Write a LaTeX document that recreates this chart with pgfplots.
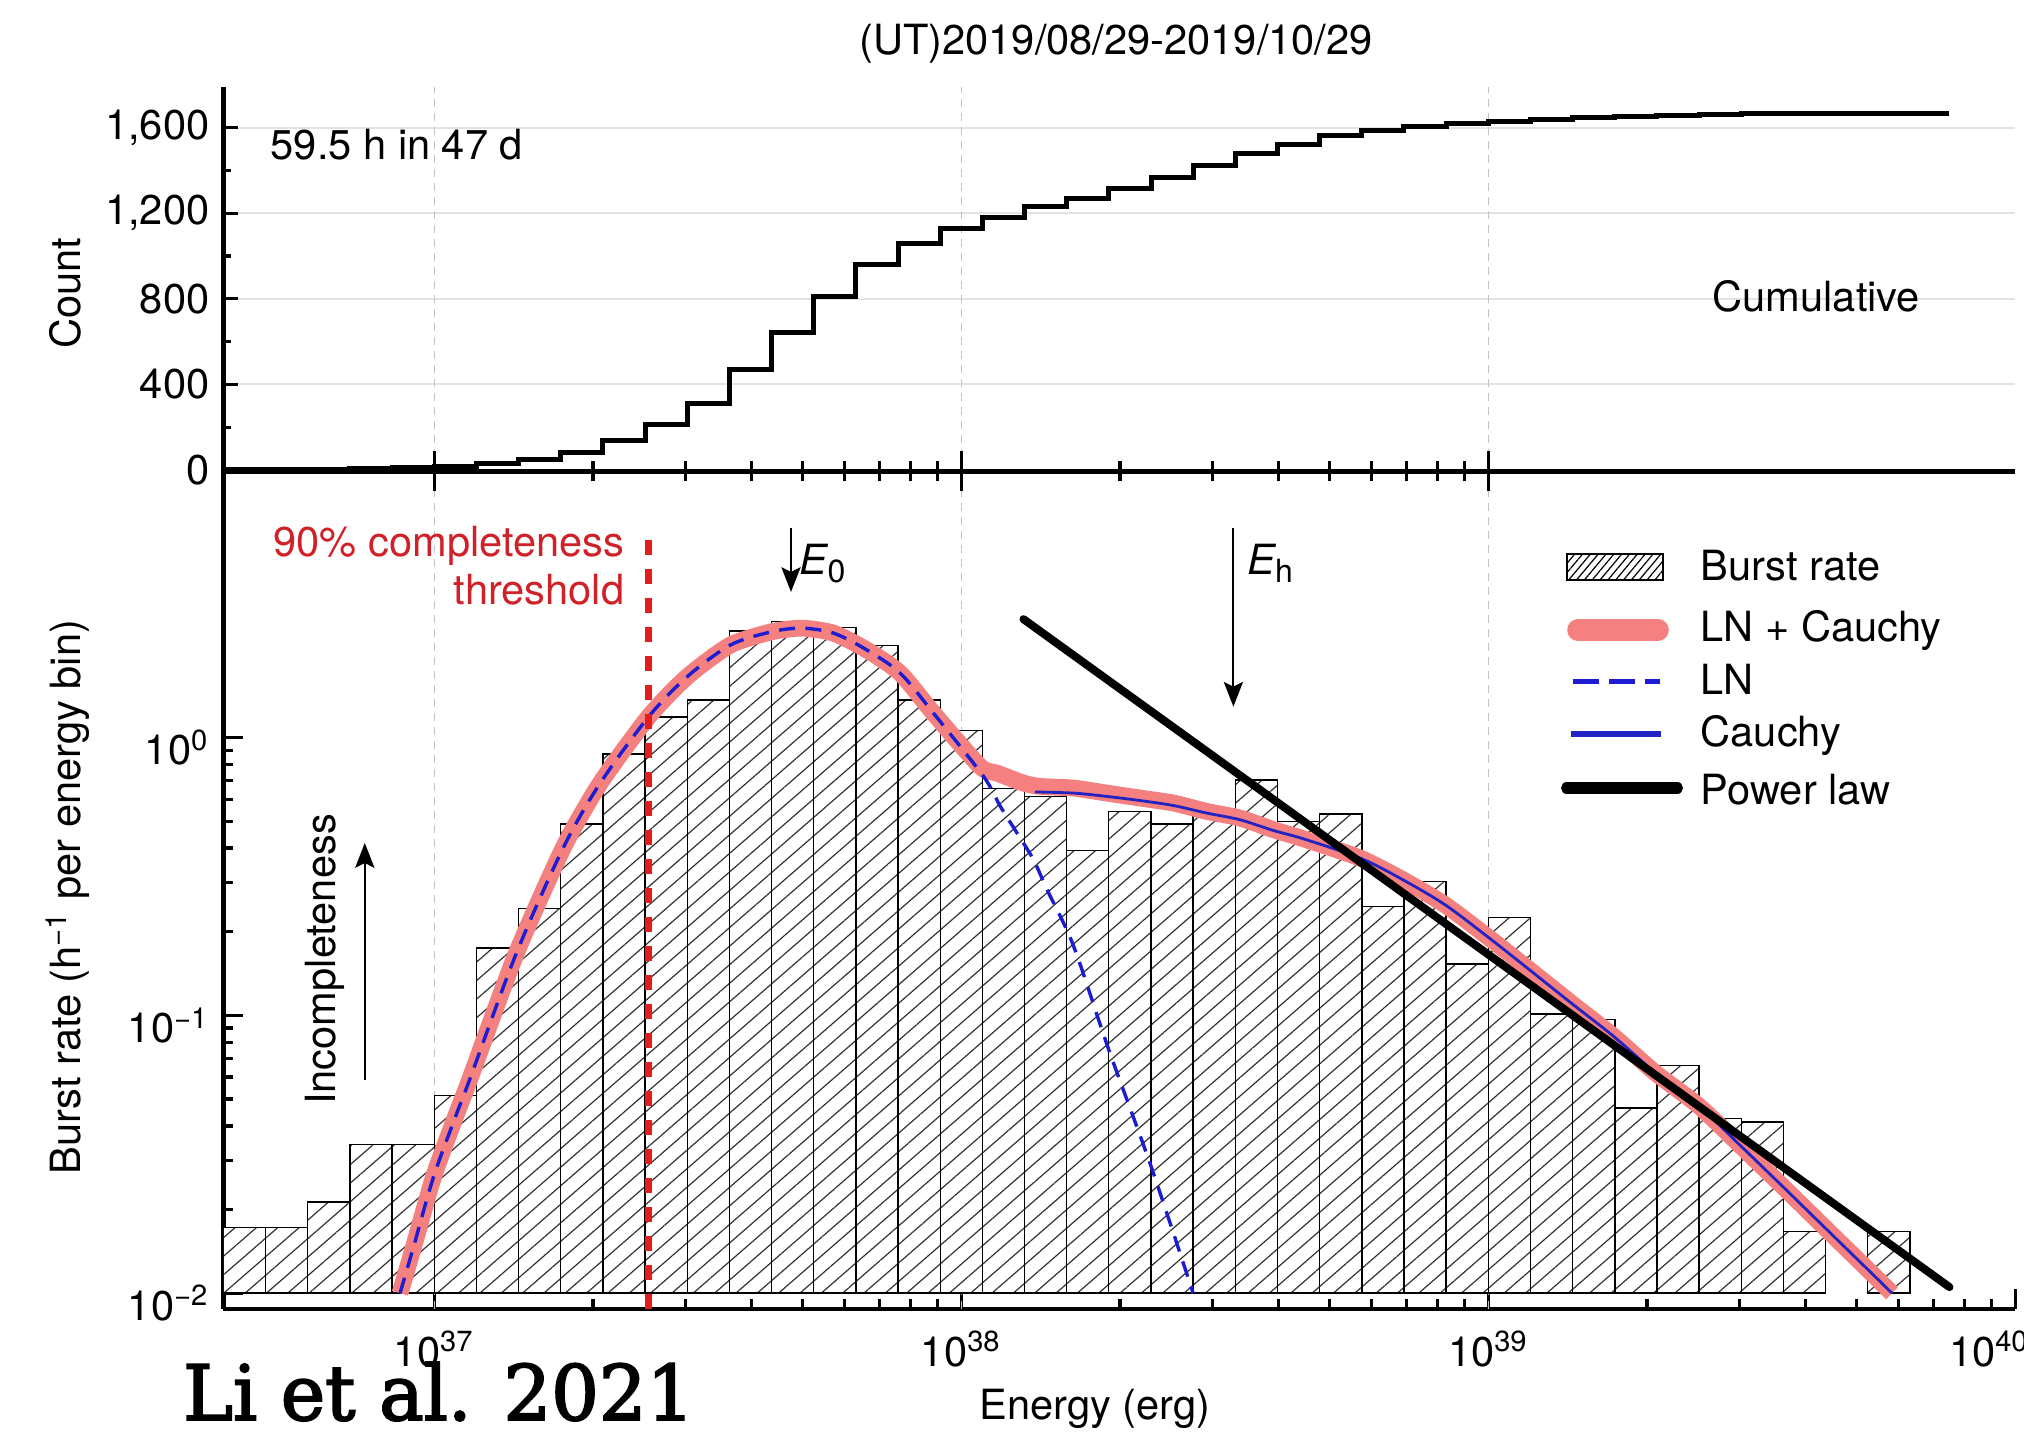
\documentclass[border=0pt]{standalone}
\usepackage{fontspec}
\setmainfont{TeX Gyre Heros}
\newfontfamily\stampfont{DejaVu Serif}[FakeBold=2.5]
\usepackage{graphicx}
\usepackage{pgfplots}
\pgfplotsset{compat=1.18}
\usepackage{pgfplotstable}
\usetikzlibrary{patterns.meta,arrows.meta}

\definecolor{lncauchy}{RGB}{244,128,128}
\definecolor{fitblue}{RGB}{28,28,210}
\definecolor{cauchyblue}{RGB}{35,35,195}
\definecolor{threshred}{RGB}{228,28,28}
\definecolor{threshtext}{RGB}{208,32,40}
\definecolor{hgrid}{RGB}{226,226,226}
\definecolor{vgrid}{RGB}{195,195,195}

\newcommand\txt{\fontsize{10.4bp}{12.5bp}\selectfont}
\newcommand\lowsub[1]{\raisebox{-1.9bp}{\fontsize{8bp}{9bp}\selectfont #1}}

% energy bins (erg) and burst rate (h^-1 per energy bin); the bin
% 4.365e39--5.248e39 holds no burst and is left out
\pgfplotstableread{
lo        hi        rate
3.981e36  4.786e36  0.0172
4.786e36  5.754e36  0.0172
5.754e36  6.918e36  0.0213
6.918e36  8.318e36  0.0343
8.318e36  1.000e37  0.0343
1.000e37  1.202e37  0.0514
1.202e37  1.445e37  0.175
1.445e37  1.738e37  0.242
1.738e37  2.089e37  0.488
2.089e37  2.512e37  0.871
2.512e37  3.020e37  1.184
3.020e37  3.631e37  1.366
3.631e37  4.365e37  2.42
4.365e37  5.248e37  2.61
5.248e37  6.310e37  2.49
6.310e37  7.586e37  2.14
7.586e37  9.120e37  1.366
9.120e37  1.096e38  1.06
1.096e38  1.318e38  0.655
1.318e38  1.585e38  0.613
1.585e38  1.905e38  0.392
1.905e38  2.291e38  0.542
2.291e38  2.754e38  0.488
2.754e38  3.311e38  0.527
3.311e38  3.981e38  0.704
3.981e38  4.786e38  0.499
4.786e38  5.754e38  0.530
5.754e38  6.918e38  0.247
6.918e38  8.318e38  0.303
8.318e38  1.000e39  0.153
1.000e39  1.202e39  0.225
1.202e39  1.445e39  0.101
1.445e39  1.738e39  0.0965
1.738e39  2.089e39  0.0464
2.089e39  2.512e39  0.0659
2.512e39  3.020e39  0.0425
3.020e39  3.631e39  0.0413
3.631e39  4.365e39  0.0167
5.248e39  6.310e39  0.0167
}\burstbins

% cumulative number of bursts, stepping at each bin edge
\pgfplotstableread{
E         N
3.981e36  1
4.786e36  2
5.754e36  4
6.918e36  7
8.318e36  11
1.000e37  17
1.202e37  32
1.445e37  48
1.738e37  81
2.089e37  137
2.512e37  213
3.020e37  310
3.631e37  470
4.365e37  641
5.248e37  812
6.310e37  960
7.586e37  1058
9.120e37  1131
1.096e38  1182
1.318e38  1233
1.585e38  1268
1.905e38  1317
2.291e38  1369
2.754e38  1423
3.311e38  1481
3.981e38  1520
4.786e38  1563
5.754e38  1587
6.918e38  1605
8.318e38  1621
1.000e39  1630
1.202e39  1640
1.445e39  1647
1.738e39  1653
2.089e39  1657
2.512e39  1661
3.020e39  1665
3.631e39  1666
4.365e39  1666
5.248e39  1668
7.500e39  1668
}\cumulative

\tikzset{
  burst bar/.style={draw=black, line width=0.35bp, fill=white,
    postaction={pattern={Lines[angle=41,distance=3.5bp,line width=0.3bp]},
      pattern color=black!80}},
  decade line/.style={vgrid, line width=0.35bp, dash pattern=on 2bp off 1.5bp},
  pointer/.style={line width=0.5bp, -{Stealth[length=6.2bp,width=4.8bp,inset=1.2bp]}},
}

% all three axes share the energy scale
\pgfplotsset{every axis/.append style={
    scale only axis, width=447.95bp,
    xmode=log, xmin=3.981e36, xmax=1e40,
    axis line style={line width=1.1bp},
    tick style={line width=0.8bp, black},
    tick label style={font=\txt},
}}

\begin{document}
\begin{tikzpicture}[x=0.25bp, y=0.25bp]
\path[use as bounding box] (0,0) rectangle (2024,1432);

% ---------------- burst rate per energy bin ----------------
\begin{axis}[
  at={(55.8bp,30.75bp)}, anchor=south west, height=209.375bp,
  ymode=log, ymin=0.008773, ymax=9.07,
  axis x line*=bottom, axis y line*=left,
  tick align=inside, major tick length=5bp, minor tick length=2.5bp,
  xtick={1e37,1e38,1e39,1e40},
  xticklabels={10\textsuperscript{37},10\textsuperscript{38},10\textsuperscript{39},10\textsuperscript{40}\hspace*{13bp}},
  xticklabel style={yshift=-2bp},
  ytick={0.01,0.1,1},
  yticklabels={10\textsuperscript{−2},10\textsuperscript{−1},10\textsuperscript{0}},
  yticklabel style={yshift=-2.5bp},
]
\draw[decade line] (axis cs:1e37,0.008773) -- (axis cs:1e37,9.07);
\draw[decade line] (axis cs:1e38,0.008773) -- (axis cs:1e38,9.07);
\draw[decade line] (axis cs:1e39,0.008773) -- (axis cs:1e39,9.07);

\pgfplotsinvokeforeach{0,...,38}{
  \pgfplotstablegetelem{#1}{lo}\of\burstbins \let\binlo\pgfplotsretval
  \pgfplotstablegetelem{#1}{hi}\of\burstbins \let\binhi\pgfplotsretval
  \pgfplotstablegetelem{#1}{rate}\of\burstbins \let\binrate\pgfplotsretval
  \edef\drawbin{\noexpand\addplot[burst bar] coordinates
    {(\binlo,0.01) (\binlo,\binrate) (\binhi,\binrate) (\binhi,0.01)} -- cycle;}
  \drawbin
}

% LN + Cauchy
\addplot[lncauchy, line width=4.2bp, smooth, tension=0.4] coordinates {
 (8.610e36,0.0100) (9.141e36,0.01476) (9.977e36,0.02636) (1.104e37,0.04457)
 (1.161e37,0.05715) (1.429e37,0.1660) (1.758e37,0.4018) (2.065e37,0.6855)
 (2.553e37,1.190) (3.020e37,1.656) (3.648e37,2.153) (4.375e37,2.404)
 (4.989e37,2.475) (5.728e37,2.374) (6.622e37,2.065) (7.656e37,1.706)
 (8.851e37,1.225) (1.086e38,0.787) (1.169e38,0.7447) (1.312e38,0.6855)
 (1.413e38,0.6668) (1.633e38,0.6577) (1.888e38,0.6310) (2.188e38,0.6053)
 (2.529e38,0.5808) (2.924e38,0.5420) (3.381e38,0.5129) (3.917e38,0.4656)
 (4.467e38,0.4315) (5.715e38,0.3681) (6.887e38,0.3076) (8.279e38,0.2500)
 (9.954e38,0.1923) (1.197e39,0.1459) (1.435e39,0.1109) (1.730e39,0.08395)
 (2.075e39,0.06209) (2.512e39,0.04710) (3.006e39,0.03404) (3.606e39,0.02438)
 (4.345e39,0.01726) (5.212e39,0.01233) (5.834e39,0.0100)
};
% LN
\addplot[fitblue, line width=0.85bp, dash pattern=on 4bp off 2.6bp, smooth] coordinates {
 (8.610e36,0.0100) (9.141e36,0.01476) (9.977e36,0.02636) (1.104e37,0.04457)
 (1.161e37,0.05715) (1.429e37,0.1660) (1.758e37,0.4018) (2.065e37,0.6855)
 (2.553e37,1.190) (3.020e37,1.656) (3.648e37,2.153) (4.375e37,2.404)
 (4.989e37,2.475) (5.728e37,2.374) (6.622e37,2.065) (7.656e37,1.706)
 (8.851e37,1.225) (1.102e38,0.7244) (1.186e38,0.5649) (1.276e38,0.4529)
 (1.371e38,0.3631) (1.455e38,0.2831) (1.633e38,0.1778) (1.905e38,0.07516)
 (2.291e38,0.02864) (2.754e38,0.0100)
};
% Cauchy
\addplot[cauchyblue, line width=0.7bp, smooth] coordinates {
 (1.380e38,0.6368) (1.633e38,0.6310) (1.888e38,0.6138) (2.188e38,0.5929)
 (2.529e38,0.5689) (2.924e38,0.5346) (3.381e38,0.5058) (3.917e38,0.4624)
 (4.467e38,0.4315) (5.715e38,0.3681) (6.887e38,0.3076) (8.279e38,0.2500)
 (9.954e38,0.1923) (1.197e39,0.1459) (1.435e39,0.1109) (1.730e39,0.08395)
 (2.075e39,0.06209) (2.512e39,0.04710) (3.006e39,0.03404) (3.606e39,0.02438)
 (4.345e39,0.01726) (5.212e39,0.01233) (5.834e39,0.0100)
};
% power law
\addplot[black, line width=2bp, line cap=round] coordinates {(1.312e38,2.667) (7.500e39,0.01052)};
% 90% completeness threshold
\addplot[threshred, line width=1.7bp, dash pattern=on 3.75bp off 3.5bp]
  coordinates {(2.553e37,5.14) (2.553e37,0.0085)};
\end{axis}

% ---------------- cumulative count ----------------
\begin{axis}[
  at={(55.8bp,240.125bp)}, anchor=south west, height=96bp,
  ymin=-7, ymax=1788,
  axis x line*=bottom, axis y line*=left,
  xtick={1e37,1e38,1e39}, xticklabels={},
  ytick={0,400,800,1200,1600}, yticklabels={0,400,800,{1,200},{1,600}},
  minor y tick num=1,
  ymajorgrids, major y grid style={hgrid, line width=0.5bp},
  tick align=inside, major tick length=3.75bp, minor tick length=2bp,
  x axis line style={line width=1.3bp},
]
\draw[decade line] (axis cs:1e37,-7) -- (axis cs:1e37,1788);
\draw[decade line] (axis cs:1e38,-7) -- (axis cs:1e38,1788);
\draw[decade line] (axis cs:1e39,-7) -- (axis cs:1e39,1788);
\addplot[const plot, black, line width=1.25bp] table[x=E, y=N] {\cumulative};
\end{axis}

% energy ticks on the shared edge
\begin{axis}[
  at={(55.8bp,240.125bp)}, anchor=south west, height=96bp,
  ymin=0, ymax=1, hide y axis,
  axis x line*=bottom,
  xtick={1e37,1e38,1e39}, xticklabels={},
  xtick align=center, major tick length=10bp, minor tick length=5bp,
  x axis line style={line width=1.3bp},
]
\end{axis}

% ---------------- text ----------------
\node[anchor=base, inner sep=0, font=\txt] at (1116,1377) {(UT)2019/08/29-2019/10/29};
\node[anchor=base west, inner sep=0, font=\txt] at (270,1272) {59.5 h in 47 d};
\node[anchor=base west, inner sep=0, font=\txt] at (1712,1120) {Cumulative};
\node[anchor=base, rotate=90, inner sep=0, font=\txt] at (81,1139) {Count};
\node[anchor=base, rotate=90, inner sep=0, font=\txt] at (81,535)
  {Burst rate (h\textsuperscript{−1} per energy bin)};
\node[anchor=base, inner sep=0, font=\txt] at (1095,12) {Energy (erg)};
\node[anchor=base west, inner sep=0] at (182.5,12)
  {\resizebox{127.75bp}{14.5bp}{\stampfont Li et al. 2021}};

\node[anchor=base east, inner sep=0, font=\txt, text=threshtext] at (625,875.3) {90\% completeness};
\node[anchor=base east, inner sep=0, font=\txt, text=threshtext] at (625,827) {threshold};

\draw[pointer] (791,904) -- (791,840);
\node[anchor=base west, inner sep=0, font=\txt] at (799,857) {{\itshape E}\lowsub{0}};
\draw[pointer] (1233.4,904) -- (1233.4,725.3);
\node[anchor=base west, inner sep=0, font=\txt] at (1246.5,857) {{\itshape E}\lowsub{h}};

\node[anchor=base, rotate=90, inner sep=0, font=\txt] at (335.5,472.5) {Incompleteness};
\draw[pointer] (364.8,352) -- (364.8,589);

% ---------------- legend ----------------
\draw[line width=0.35bp, pattern={Lines[angle=50,distance=1.5bp,line width=0.3bp]}]
  (1567,852) rectangle (1663,878);
\node[anchor=base west, inner sep=0, font=\txt] at (1700,851.3) {Burst rate};
\draw[lncauchy, line width=5.4bp, line cap=round] (1578,802) -- (1658,802);
\node[anchor=base west, inner sep=0, font=\txt] at (1700,790.3) {LN + Cauchy};
\draw[fitblue, line width=1.4bp, dash pattern=on 6.5bp off 2.5bp] (1573,750.3) -- (1660,750.3);
\node[anchor=base west, inner sep=0, font=\txt] at (1700,737) {LN};
\draw[cauchyblue, line width=1.5bp] (1571,698) -- (1661,698);
\node[anchor=base west, inner sep=0, font=\txt] at (1700,685.3) {Cauchy};
\draw[black, line width=2.8bp, line cap=round] (1566.6,644) -- (1677.4,644);
\node[anchor=base west, inner sep=0, font=\txt] at (1700,627) {Power law};
\end{tikzpicture}
\end{document}
